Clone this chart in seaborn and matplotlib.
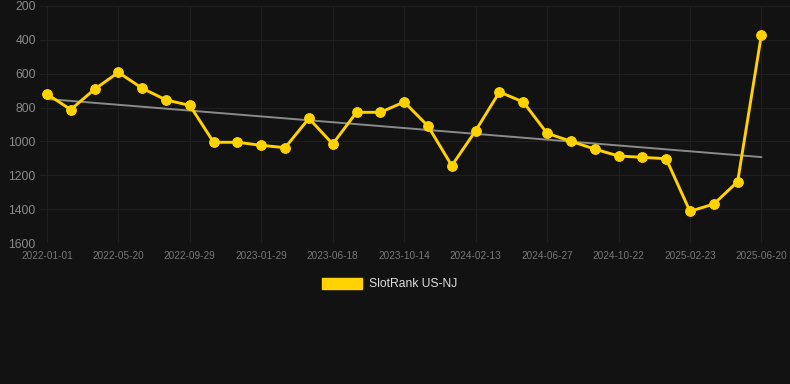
import matplotlib
matplotlib.use("Agg")
import matplotlib.pyplot as plt
from matplotlib.patches import Patch
import seaborn as sns
import numpy as np

# SlotRank US-NJ, one point per period (31 points), labels every 3rd point
rank = [720, 812, 692, 592, 686, 755, 787, 1005, 1005, 1023, 1037,
        864, 1015, 828, 828, 767, 909, 1143, 937, 708, 767, 952,
        999, 1045, 1086, 1094, 1102, 1413, 1370, 1238, 369]
tick_labels = ["2022-01-01", "2022-05-20", "2022-09-29", "2023-01-29",
               "2023-06-18", "2023-10-14", "2024-02-13", "2024-06-27",
               "2024-10-22", "2025-02-23", "2025-06-20"]
y_ticks = [200, 400, 600, 800, 1000, 1200, 1400, 1600]

bg = "#121212"
yellow = "#FFD200"

sns.set_style("dark")
plt.rcParams["font.family"] = ["Liberation Sans", "DejaVu Sans"]

fig = plt.figure(figsize=(7.9, 3.84), dpi=100, facecolor=bg)
ax = fig.add_axes([40 / 790, 1 - 243 / 384, 1 - 40 / 790, 237 / 384])
ax.set_facecolor(bg)

idx = np.arange(len(rank))

# trend line (least squares)
k, b = np.polyfit(idx, rank, 1)
sns.lineplot(x=idx, y=k * idx + b, ax=ax, color="#8a8a8a", linewidth=1.4)

sns.lineplot(x=idx, y=rank, ax=ax, color=yellow, linewidth=2.1,
             marker="o", markersize=7, markeredgecolor=yellow)

ax.set_ylim(1600, 200)
ax.set_xlim(-0.29, 31.2)
ax.set_yticks(y_ticks)
ax.set_xticks(idx[::3])
ax.set_xticklabels(tick_labels)
ax.tick_params(axis="y", colors="#8a8a8a", labelsize=8.7, length=0, pad=3)
ax.tick_params(axis="x", colors="#777777", labelsize=7.2, length=0, pad=6)
ax.grid(True, color="#1f1f1f", linewidth=0.8)
for s in ax.spines.values():
    s.set_visible(False)
ax.set_xlabel("")
ax.set_ylabel("")

fig.legend(handles=[Patch(facecolor=yellow, edgecolor=yellow, label="SlotRank US-NJ")],
           loc="center", bbox_to_anchor=(390 / 790, 1 - 284 / 384),
           frameon=False, fontsize=8.7, labelcolor="#dddddd",
           handlelength=3.3, handleheight=1.1, handletextpad=0.6)

fig.savefig("out.png", dpi=100, facecolor=bg)
